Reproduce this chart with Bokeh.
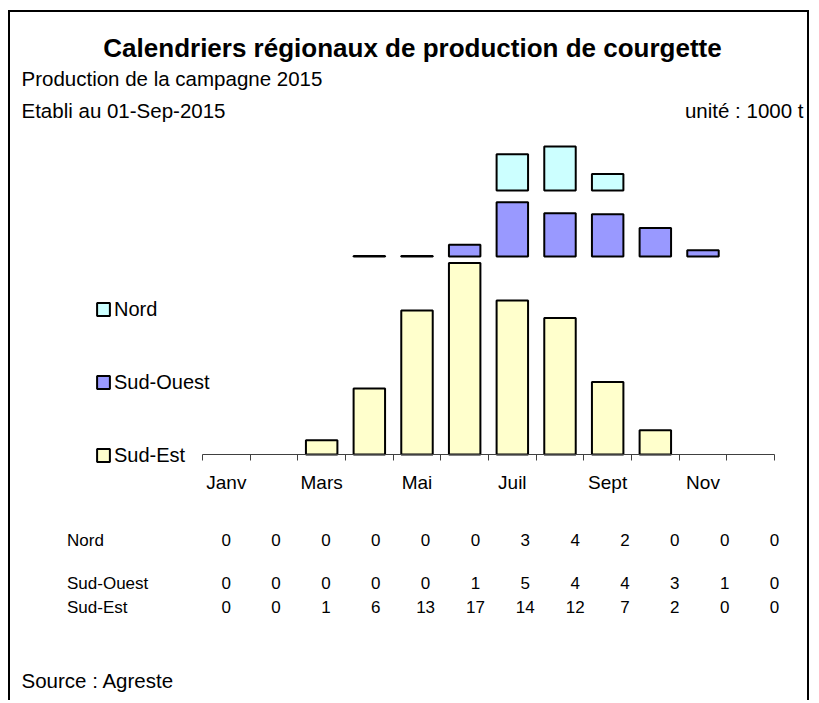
from bokeh.plotting import figure
from bokeh.models import (Range1d, FixedTicker, Legend, LegendItem, Label, LabelSet,
                          ColumnDataSource, LinearAxis)
from bokeh.core.properties import value
from bokeh.embed import file_html
from bokeh.resources import INLINE

# ---------------- data ----------------
months = ["Janv", "Févr", "Mars", "Avr", "Mai", "Juin", "Juil", "Août", "Sept", "Oct", "Nov", "Déc"]
axis_labels = ["Janv", "", "Mars", "", "Mai", "", "Juil", "", "Sept", "", "Nov", ""]

# bar heights (1000 t)
nord = [0, 0, 0, 0, 0, 0, 3.3, 4.0, 1.5, 0, 0, 0]
sud_ouest = [0, 0, 0, 0.05, 0.05, 1.06, 4.94, 3.94, 3.85, 2.6, 0.57, 0]
sud_est = [0, 0, 1.3, 6.0, 13.1, 17.4, 14.0, 12.4, 6.6, 2.2, 0, 0]

# values printed in the table
table_rows = ["Nord", "Sud-Ouest", "Sud-Est"]
table_nord = [0, 0, 0, 0, 0, 0, 3, 4, 2, 0, 0, 0]
table_sud_ouest = [0, 0, 0, 0, 0, 1, 5, 4, 4, 3, 1, 0]
table_sud_est = [0, 0, 1, 6, 13, 17, 14, 12, 7, 2, 0, 0]

# ---------------- layout (page pixels) ----------------
HOST_W, HOST_H = 801, 690
CANVAS_L, CANVAS_T = 10.0, 12.0
CANVAS_W, CANVAS_H = HOST_W, HOST_H
FRAME_B = CANVAS_T + CANVAS_H

AXIS_L, AXIS_R = 202.0, 774.0      # page x of month 0 and month 12
AXIS_Y = 454.0                     # page y of value 0 (Sud-Est baseline)
PX_PER_UNIT = 11.0
CAT_PX = (AXIS_R - AXIS_L) / 12.0

def dx(px):
    return (px - AXIS_L) / CAT_PX

def dy(py):
    return (AXIS_Y - py) / PX_PER_UNIT

OFF_SE = 0.0
OFF_SO = 18.0
OFF_N = 24.0

FONT = "Liberation Sans"

p = figure(width=HOST_W, height=HOST_H, output_backend="svg", toolbar_location=None,
           title=None,
           x_range=Range1d(dx(CANVAS_L), dx(CANVAS_L + CANVAS_W)),
           y_range=Range1d(dy(FRAME_B), dy(CANVAS_T)),
           x_axis_type=None, y_axis_type=None, min_border=0)
p.outline_line_color = None
p.background_fill_color = "white"
p.border_fill_color = "white"
p.styles = {"margin-left": "8px", "margin-top": "10px",
            "border-left": "2px solid black", "border-top": "2px solid black",
            "border-right": "2px solid black"}

def bars(values, offset, color):
    xs, bs, ts = [], [], []
    for i, v in enumerate(values):
        if v > 0:
            xs.append(i + 0.5)
            bs.append(offset)
            ts.append(offset + v)
    src = ColumnDataSource(dict(x=xs, bottom=bs, top=ts))
    return p.vbar(x="x", width=0.66, bottom="bottom", top="top", source=src,
                  fill_color=color, line_color="black", line_width=2)

r_se = bars(sud_est, OFF_SE, "#FFFFCC")
r_so = bars(sud_ouest, OFF_SO, "#9999FF")
r_n = bars(nord, OFF_N, "#CCFFFF")

# x axis drawn at value 0: boundary ticks (minor) + month labels at centres
centers = [i + 0.5 for i in range(12)]
bounds = [float(i) for i in range(13)]
xaxis = LinearAxis(ticker=FixedTicker(ticks=centers, minor_ticks=bounds),
                   major_label_overrides={c: lab for c, lab in zip(centers, axis_labels)},
                   fixed_location=OFF_SE, bounds=(0, 12))
xaxis.axis_line_color = "#404040"
xaxis.axis_line_width = 1
xaxis.major_tick_out = 0
xaxis.major_tick_in = 0
xaxis.minor_tick_out = 6
xaxis.minor_tick_in = 0
xaxis.minor_tick_line_color = "#404040"
xaxis.major_label_standoff = 11
xaxis.major_label_text_font = FONT
xaxis.major_label_text_font_size = "19px"
xaxis.major_label_text_color = "black"
p.add_layout(xaxis, "below")

# legend
legend = Legend(items=[LegendItem(label="Nord", renderers=[r_n]),
                       LegendItem(label="Sud-Ouest", renderers=[r_so]),
                       LegendItem(label="Sud-Est", renderers=[r_se])],
                location=(95.0 - CANVAS_L, FRAME_B - 467.0))
legend.glyph_width = 16
legend.glyph_height = 16
legend.label_height = 24
legend.label_standoff = 3
legend.spacing = 49
legend.padding = 0
legend.margin = 0
legend.border_line_color = None
legend.background_fill_color = None
legend.label_text_font = FONT
legend.label_text_font_size = "20px"
legend.label_text_color = "black"
p.add_layout(legend)

# titles
def label(px, py, text, size="20.5px", align="left", style="normal"):
    p.add_layout(Label(x=dx(px), y=dy(py), text=text, text_font=FONT,
                       text_font_size=size, text_font_style=style, text_color="black",
                       text_align=align, text_baseline="alphabetic"))

label(412, 47, "Calendriers régionaux de production de courgette", size="26px",
      align="center", style="bold")
label(21, 77.7, "Production de la campagne 2015")
label(21, 110.3, "Etabli au 01-Sep-2015")
label(803, 110.3, "unité : 1000 t", align="right")
label(21, 680, "Source : Agreste")

# data table
row_base = [545.0, 588.3, 612.3]
row_vals = [table_nord, table_sud_ouest, table_sud_est]
lab_src = ColumnDataSource(dict(x=[dx(66.5)] * 3, y=[dy(b) for b in row_base], text=table_rows))
p.add_layout(LabelSet(x="x", y="y", text="text", source=lab_src, text_font=value(FONT),
                      text_font_size=value("17px"), text_color="black",
                      text_baseline="alphabetic"))
for vals, b in zip(row_vals, row_base):
    src = ColumnDataSource(dict(x=[dx(225.7 + 49.85 * i) for i in range(12)],
                                y=[dy(b)] * 12, text=[str(v) for v in vals]))
    p.add_layout(LabelSet(x="x", y="y", text="text", source=src, text_font=value(FONT),
                          text_font_size=value("17px"), text_color="black",
                          text_align="center", text_baseline="alphabetic"))

open("out.html", "w").write(file_html(p, INLINE))
